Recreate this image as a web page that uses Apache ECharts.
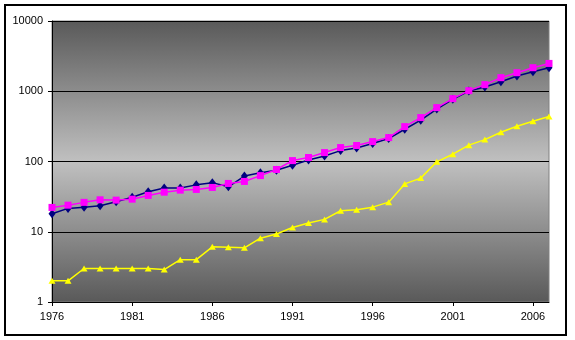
<!DOCTYPE html>
<html>
<head>
<meta charset="utf-8">
<script src="https://cdn.jsdelivr.net/npm/echarts@6/dist/echarts.min.js"></script>
<style>
  html, body { margin: 0; padding: 0; background: #fff; }
  #chart { width: 575px; height: 340px; }
</style>
</head>
<body>
<div id="chart"></div>
<script>
// Years on the horizontal axis
const years = [
  '1976','1977','1978','1979','1980','1981','1982','1983','1984','1985',
  '1986','1987','1988','1989','1990','1991','1992','1993','1994','1995',
  '1996','1997','1998','1999','2000','2001','2002','2003','2004','2005',
  '2006','2007'
];

// Navy series (diamond markers)
const navyValues = [
  18, 21.5, 22.4, 23.4, 26.7, 31, 37, 42, 42, 46.5,
  50, 43.6, 62, 69, 75, 88.5, 105, 120, 143, 156,
  180, 212, 288, 388, 558, 767, 1007, 1148, 1368, 1644,
  1898, 2163
];

// Magenta series (square markers)
const magentaValues = [
  22.2, 23.9, 26.2, 28.5, 28.2, 29.1, 32.9, 36.6, 39.1, 40,
  42.7, 48.7, 52, 63, 77, 103, 114, 134, 158, 169,
  192, 219, 314, 422, 585, 785, 1020, 1242, 1560, 1836,
  2163, 2489
];

// Yellow series (triangle markers)
const yellowValues = [
  2, 2, 3, 3, 3, 3, 3, 2.9, 4, 4,
  6.1, 6, 5.9, 8.1, 9.3, 11.5, 13.3, 15, 19.9, 20.5,
  22.4, 26.4, 48, 58, 99, 127, 171, 205, 261, 317,
  375, 437
];

const chart = echarts.init(document.getElementById('chart'), null, { renderer: 'canvas' });

const labelFont = { color: '#000', fontFamily: 'Liberation Sans, Arial, sans-serif', fontSize: 11 };

chart.setOption({
  animation: false,
  backgroundColor: '#fff',
  graphic: [{
    type: 'rect',
    shape: { x: 5, y: 5, width: 561, height: 330 },
    style: { fill: 'none', stroke: '#000', lineWidth: 2 },
    silent: true,
    z: 100
  }],
  grid: {
    left: 52, right: 26, top: 21, bottom: 38,
    show: true,
    borderColor: '#808080',
    borderWidth: 1,
    backgroundColor: new echarts.graphic.LinearGradient(0, 0, 0, 1, [
      { offset: 0, color: '#595959' },
      { offset: 0.5, color: '#c0c0c0' },
      { offset: 1, color: '#595959' }
    ])
  },
  xAxis: {
    type: 'category',
    data: years,
    boundaryGap: false,
    axisLine: { show: true, lineStyle: { color: '#000', width: 1 } },
    axisTick: { show: true, interval: 4, length: 4, lineStyle: { color: '#000' } },
    axisLabel: Object.assign({ interval: 4, margin: 9 }, labelFont),
    splitLine: { show: false }
  },
  yAxis: {
    type: 'log',
    logBase: 10,
    min: 1,
    max: 10000,
    axisLine: { show: true, lineStyle: { color: '#000', width: 1 } },
    axisTick: { show: true, length: 4, lineStyle: { color: '#000' } },
    axisLabel: Object.assign({ margin: 9, formatter: v => String(Math.round(v)) }, labelFont),
    splitLine: { show: true, lineStyle: { color: '#000', width: 1 } },
    minorTick: { show: false }
  },
  series: [
    {
      name: 'navy',
      type: 'line',
      data: navyValues,
      symbol: 'diamond',
      symbolSize: [7, 9],
      showAllSymbol: true,
      itemStyle: { color: '#000080' },
      lineStyle: { color: '#000080', width: 1.5 },
      z: 2
    },
    {
      name: 'magenta',
      type: 'line',
      data: magentaValues,
      symbol: 'rect',
      symbolSize: 7,
      showAllSymbol: true,
      itemStyle: { color: '#ff00ff' },
      lineStyle: { color: '#ff00ff', width: 1.5 },
      z: 3
    },
    {
      name: 'yellow',
      type: 'line',
      data: yellowValues,
      symbol: 'triangle',
      symbolSize: [7, 6],
      showAllSymbol: true,
      itemStyle: { color: '#ffff00' },
      lineStyle: { color: '#ffff00', width: 1.5 },
      z: 4
    }
  ]
});
</script>
</body>
</html>
